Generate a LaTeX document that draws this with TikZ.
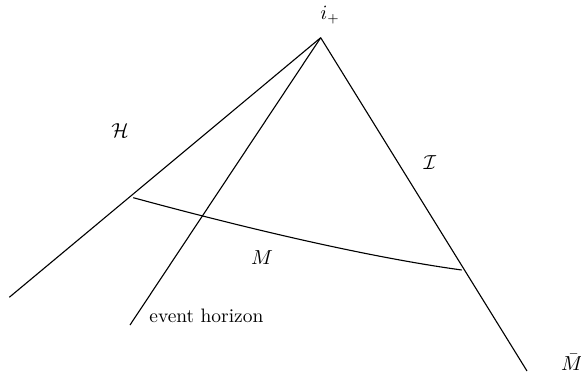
\documentclass[tikz,border=0pt]{standalone}
\usepackage{amsmath,amssymb}
\usepackage{tikz}
\usetikzlibrary{calc}

\begin{document}
\begin{tikzpicture}[x=0.54pt, y=-0.54pt]

% Defined styles
\tikzstyle{edge} = [line width=0.6pt, black]
\tikzstyle{tag} = [inner sep=0pt, text=black, font=\fontsize{10.5}{12}\selectfont]

\useasboundingbox (0,0) rectangle (581,380);

% --- Corners ---
\coordinate (ip) at (320.7,37.7);
\coordinate (hend) at (9.3,297.3);
\coordinate (evend) at (130,325);
\coordinate (send) at (527,371);
\coordinate (mleft) at (133.3,197.7);
\coordinate (mright) at (461.7,270);

% --- Lines ---
\draw [edge] (ip) -- (hend);
\draw [edge] (ip) -- (evend);
\draw [edge] (ip) -- (send);
\draw [edge] (mleft) .. controls (230,224) and (360,256) .. (mright);

% --- Labels ---
\node[tag] (lip) at (330,15) {$i_+$};
\node[tag] (lh) at (120,131) {$\mathcal{H}$};
\node[tag] (li) at (430,163) {$\mathcal{I}$};
\node[tag] (lm) at (262,258) {$M$};
\node[tag, anchor=west] (lev) at (149,316) {event horizon};
\node[tag] (lmb) at (572,362) {$\bar{M}$};

\end{tikzpicture}
\end{document}
